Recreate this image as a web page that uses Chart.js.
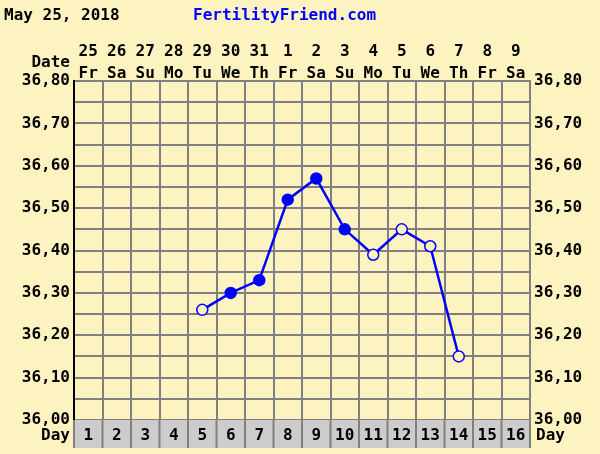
<!DOCTYPE html>
<html lang="en">
<head>
  <meta charset="UTF-8">
  <title>BBT chart</title>
  <script src="https://cdn.jsdelivr.net/npm/chart.js@4"></script>
  <style>
    body { margin:0; background:#fdf3c0; }
  </style>
</head>
<body>
  <canvas id="myChart" width=600 height=454></canvas>
  <script>
  var days = ['1','2','3','4','5','6','7','8','9','10','11','12','13','14','15','16'];
  var dates = ['25','26','27','28','29','30','31','1','2','3','4','5','6','7','8','9'];
  var weekdays = ['Fr','Sa','Su','Mo','Tu','We','Th','Fr','Sa','Su','Mo','Tu','We','Th','Fr','Sa'];
  var temps = [null,null,null,null,36.26,36.30,36.33,36.52,36.57,36.45,36.39,36.45,36.41,36.15,null,null];
  var filled = [false,false,false,false,false,true,true,true,true,true,false,false,false,false,false,false];

  var BG = '#fdf3c0';
  var FONT = 'bold 16px "DejaVu Sans Mono"';

  var extras = {
    id: 'extras',
    beforeDatasetsDraw: function(chart){
      var c = chart.ctx, a = chart.chartArea, x = chart.scales.x;
      var w = (a.right - a.left) / days.length;
      c.save();
      // day row
      c.fillStyle = '#cccccc';
      c.fillRect(a.left, a.bottom, a.right - a.left, 28);
      c.strokeStyle = '#808080'; c.lineWidth = 2;
      for (var i = 0; i <= days.length; i++) {
        c.beginPath(); c.moveTo(a.left + i*w, a.bottom); c.lineTo(a.left + i*w, a.bottom + 28); c.stroke();
      }
      c.font = FONT; c.fillStyle = '#000'; c.textBaseline = 'middle'; c.textAlign = 'center';
      days.forEach(function(d, i){ c.fillText(d, x.getPixelForValue(i), a.bottom + 16); });
      dates.forEach(function(d, i){
        c.fillText(d, x.getPixelForValue(i), 52);
        c.fillText(weekdays[i], x.getPixelForValue(i), 74);
      });
      c.textAlign = 'right';
      c.fillText('Date', 70, 63);
      c.fillText('Day', 70, a.bottom + 16);
      c.textAlign = 'left';
      c.fillText('Day', 536, a.bottom + 16);
      c.fillText('May 25, 2018', 4, 16);
      c.fillStyle = '#0000ff';
      c.fillText('FertilityFriend.com', 193, 16);
      c.restore();
    }
  };

  var yTick = {
    font: { family: 'DejaVu Sans Mono', size: 16, weight: 'bold' },
    color: '#000',
    padding: 4,
    autoSkip: false,
    stepSize: 0.05,
    callback: function(v){
      var r = Math.round(v*100);
      return r % 10 === 0 ? (r/100).toFixed(2).replace('.', ',') : '';
    }
  };

  new Chart(document.getElementById('myChart'), {
    type: 'line',
    data: {
      labels: days,
      datasets: [{
        data: temps,
        borderColor: '#0000ff',
        borderWidth: 2.5,
        pointRadius: 5.5,
        pointBorderWidth: 1.5,
        pointBorderColor: '#0000ff',
        pointBackgroundColor: filled.map(function(f){ return f ? '#0000ff' : BG; }),
        spanGaps: false
      }]
    },
    options: {
      responsive: false,
      animation: false,
      layout: { padding: { top: 81, bottom: 34 } },
      plugins: { legend: { display: false }, tooltip: { enabled: false } },
      scales: {
        x: {
          offset: true,
          grid: { offset: true, color: '#808080', lineWidth: 2, drawTicks: false },
          border: { display: false },
          ticks: { display: false }
        },
        y: {
          min: 36, max: 36.8,
          ticks: yTick,
          grid: { color: '#808080', lineWidth: 2, drawTicks: false },
          border: { color: '#000', width: 2 },
          afterFit: function(s){ s.width = 74; }
        },
        y2: {
          position: 'right',
          min: 36, max: 36.8,
          ticks: yTick,
          grid: { display: false, drawTicks: false },
          border: { color: '#808080', width: 2 },
          afterFit: function(s){ s.width = 70; }
        }
      }
    },
    plugins: [extras]
  });
  </script>
</body>
</html>
